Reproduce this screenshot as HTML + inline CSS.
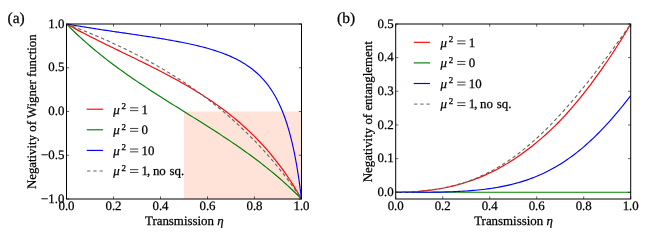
<!DOCTYPE html>
<html><head><meta charset="utf-8"><title>figure</title>
<style>html,body{margin:0;padding:0;background:#fff;}svg{display:block;will-change:transform;}text{font-family:"Liberation Serif",serif;fill:#000;text-rendering:geometricPrecision;stroke:#000;stroke-width:0.25px;}.it{font-style:italic;}</style></head><body>
<svg width="664" height="240" viewBox="0 0 664 240">
<rect x="0" y="0" width="664" height="240" fill="#ffffff"/>
<clipPath id="clip1"><rect x="66.50" y="24.00" width="235.00" height="175.00"/></clipPath>
<rect x="184.00" y="111.50" width="117.50" height="87.50" fill="#ffe2d8"/>
<g clip-path="url(#clip1)" fill="none" stroke-linejoin="round">
<path d="M66.50,24.00 L68.85,25.30 L71.20,26.59 L73.55,27.87 L75.90,29.13 L78.25,30.38 L80.60,31.62 L82.95,32.85 L85.30,34.06 L87.65,35.27 L90.00,36.47 L92.35,37.66 L94.70,38.84 L97.05,40.01 L99.40,41.18 L101.75,42.34 L104.10,43.50 L106.45,44.65 L108.80,45.80 L111.15,46.95 L113.50,48.09 L115.85,49.23 L118.20,50.37 L120.55,51.51 L122.90,52.65 L125.25,53.79 L127.60,54.93 L129.95,56.07 L132.30,57.21 L134.65,58.35 L137.00,59.50 L139.35,60.65 L141.70,61.81 L144.05,62.97 L146.40,64.13 L148.75,65.30 L151.10,66.48 L153.45,67.66 L155.80,68.86 L158.15,70.06 L160.50,71.27 L162.85,72.49 L165.20,73.72 L167.55,74.96 L169.90,76.21 L172.25,77.47 L174.60,78.75 L176.95,80.04 L179.30,81.35 L181.65,82.67 L184.00,84.00 L186.35,85.35 L188.70,86.72 L191.05,88.11 L193.40,89.52 L195.75,90.95 L198.10,92.40 L200.45,93.87 L202.80,95.36 L205.15,96.88 L207.50,98.42 L209.85,99.99 L212.20,101.59 L214.55,103.21 L216.90,104.86 L219.25,106.55 L221.60,108.26 L223.95,110.01 L226.30,111.79 L228.65,113.61 L231.00,115.47 L233.35,117.36 L235.70,119.30 L238.05,121.28 L240.40,123.30 L242.75,125.36 L245.10,127.48 L247.45,129.64 L249.80,131.86 L252.15,134.12 L254.50,136.45 L256.85,138.83 L259.20,141.27 L261.55,143.77 L263.90,146.34 L266.25,148.98 L268.60,151.69 L270.95,154.47 L273.30,157.33 L275.65,160.27 L278.00,163.29 L280.35,166.40 L282.70,169.60 L285.05,172.89 L287.40,176.29 L289.75,179.79 L292.10,183.39 L294.45,187.11 L296.80,190.95 L299.15,194.91 L301.50,199.00" stroke="#ff0000" stroke-width="1.15"/>
<path d="M66.50,24.00 L68.85,26.38 L71.20,28.72 L73.55,31.01 L75.90,33.26 L78.25,35.47 L80.60,37.65 L82.95,39.78 L85.30,41.88 L87.65,43.94 L90.00,45.97 L92.35,47.97 L94.70,49.94 L97.05,51.88 L99.40,53.79 L101.75,55.67 L104.10,57.53 L106.45,59.36 L108.80,61.17 L111.15,62.96 L113.50,64.72 L115.85,66.47 L118.20,68.19 L120.55,69.90 L122.90,71.58 L125.25,73.25 L127.60,74.91 L129.95,76.54 L132.30,78.17 L134.65,79.77 L137.00,81.37 L139.35,82.95 L141.70,84.52 L144.05,86.08 L146.40,87.63 L148.75,89.17 L151.10,90.70 L153.45,92.22 L155.80,93.73 L158.15,95.24 L160.50,96.74 L162.85,98.23 L165.20,99.72 L167.55,101.20 L169.90,102.68 L172.25,104.15 L174.60,105.63 L176.95,107.10 L179.30,108.57 L181.65,110.03 L184.00,111.50 L186.35,112.97 L188.70,114.43 L191.05,115.90 L193.40,117.37 L195.75,118.85 L198.10,120.32 L200.45,121.80 L202.80,123.28 L205.15,124.77 L207.50,126.26 L209.85,127.76 L212.20,129.27 L214.55,130.78 L216.90,132.30 L219.25,133.83 L221.60,135.37 L223.95,136.92 L226.30,138.48 L228.65,140.05 L231.00,141.63 L233.35,143.23 L235.70,144.83 L238.05,146.46 L240.40,148.09 L242.75,149.75 L245.10,151.42 L247.45,153.10 L249.80,154.81 L252.15,156.53 L254.50,158.28 L256.85,160.04 L259.20,161.83 L261.55,163.64 L263.90,165.47 L266.25,167.33 L268.60,169.21 L270.95,171.12 L273.30,173.06 L275.65,175.03 L278.00,177.03 L280.35,179.06 L282.70,181.12 L285.05,183.22 L287.40,185.35 L289.75,187.53 L292.10,189.74 L294.45,191.99 L296.80,194.28 L299.15,196.62 L301.50,199.00" stroke="#008000" stroke-width="1.15"/>
<path d="M66.50,24.00 L68.85,24.41 L71.20,24.82 L73.55,25.23 L75.90,25.62 L78.25,26.02 L80.60,26.40 L82.95,26.79 L85.30,27.17 L87.65,27.54 L90.00,27.91 L92.35,28.28 L94.70,28.64 L97.05,29.00 L99.40,29.36 L101.75,29.72 L104.10,30.07 L106.45,30.42 L108.80,30.77 L111.15,31.12 L113.50,31.46 L115.85,31.81 L118.20,32.15 L120.55,32.49 L122.90,32.83 L125.25,33.18 L127.60,33.52 L129.95,33.86 L132.30,34.21 L134.65,34.55 L137.00,34.90 L139.35,35.25 L141.70,35.60 L144.05,35.95 L146.40,36.31 L148.75,36.67 L151.10,37.03 L153.45,37.39 L155.80,37.77 L158.15,38.14 L160.50,38.52 L162.85,38.91 L165.20,39.30 L167.55,39.70 L169.90,40.11 L172.25,40.53 L174.60,40.95 L176.95,41.39 L179.30,41.83 L181.65,42.29 L184.00,42.75 L186.35,43.23 L188.70,43.73 L191.05,44.24 L193.40,44.76 L195.75,45.30 L198.10,45.86 L200.45,46.44 L202.80,47.04 L205.15,47.66 L207.50,48.31 L209.85,48.98 L212.20,49.68 L214.55,50.41 L216.90,51.18 L219.25,51.98 L221.60,52.81 L223.95,53.69 L226.30,54.61 L228.65,55.58 L231.00,56.60 L233.35,57.68 L235.70,58.82 L238.05,60.03 L240.40,61.31 L242.75,62.67 L245.10,64.11 L247.45,65.66 L249.80,67.30 L252.15,69.07 L254.50,70.96 L256.85,73.00 L259.20,75.19 L261.55,77.56 L263.90,80.13 L266.25,82.93 L268.60,85.97 L270.95,89.31 L273.30,92.97 L275.65,97.00 L278.00,101.47 L280.35,106.43 L282.70,111.99 L285.05,118.23 L287.40,125.30 L289.75,133.36 L292.10,142.62 L294.45,153.37 L296.80,165.97 L299.15,180.94 L301.50,199.00" stroke="#0000ff" stroke-width="1.15"/>
<path d="M66.50,24.00 L68.85,24.88 L71.20,25.77 L73.55,26.66 L75.90,27.57 L78.25,28.49 L80.60,29.41 L82.95,30.35 L85.30,31.29 L87.65,32.25 L90.00,33.21 L92.35,34.19 L94.70,35.17 L97.05,36.17 L99.40,37.17 L101.75,38.19 L104.10,39.22 L106.45,40.26 L108.80,41.31 L111.15,42.37 L113.50,43.44 L115.85,44.53 L118.20,45.63 L120.55,46.74 L122.90,47.86 L125.25,49.00 L127.60,50.15 L129.95,51.31 L132.30,52.49 L134.65,53.68 L137.00,54.88 L139.35,56.10 L141.70,57.33 L144.05,58.58 L146.40,59.84 L148.75,61.12 L151.10,62.41 L153.45,63.72 L155.80,65.05 L158.15,66.39 L160.50,67.75 L162.85,69.13 L165.20,70.52 L167.55,71.93 L169.90,73.36 L172.25,74.81 L174.60,76.27 L176.95,77.76 L179.30,79.26 L181.65,80.79 L184.00,82.33 L186.35,83.90 L188.70,85.49 L191.05,87.10 L193.40,88.73 L195.75,90.38 L198.10,92.06 L200.45,93.76 L202.80,95.48 L205.15,97.23 L207.50,99.00 L209.85,100.80 L212.20,102.62 L214.55,104.47 L216.90,106.35 L219.25,108.26 L221.60,110.19 L223.95,112.16 L226.30,114.15 L228.65,116.18 L231.00,118.23 L233.35,120.32 L235.70,122.44 L238.05,124.59 L240.40,126.78 L242.75,129.00 L245.10,131.26 L247.45,133.55 L249.80,135.89 L252.15,138.26 L254.50,140.67 L256.85,143.12 L259.20,145.61 L261.55,148.15 L263.90,150.72 L266.25,153.35 L268.60,156.02 L270.95,158.73 L273.30,161.50 L275.65,164.32 L278.00,167.18 L280.35,170.10 L282.70,173.07 L285.05,176.10 L287.40,179.19 L289.75,182.33 L292.10,185.54 L294.45,188.81 L296.80,192.14 L299.15,195.53 L301.50,199.00" stroke="#636363" stroke-width="1.1" stroke-dasharray="3.5 2.7"/>
</g>
<g stroke="#000" stroke-width="0.6">
<line x1="66.50" y1="199.00" x2="66.50" y2="196.30"/>
<line x1="66.50" y1="24.00" x2="66.50" y2="26.70"/>
<line x1="113.50" y1="199.00" x2="113.50" y2="196.30"/>
<line x1="113.50" y1="24.00" x2="113.50" y2="26.70"/>
<line x1="160.50" y1="199.00" x2="160.50" y2="196.30"/>
<line x1="160.50" y1="24.00" x2="160.50" y2="26.70"/>
<line x1="207.50" y1="199.00" x2="207.50" y2="196.30"/>
<line x1="207.50" y1="24.00" x2="207.50" y2="26.70"/>
<line x1="254.50" y1="199.00" x2="254.50" y2="196.30"/>
<line x1="254.50" y1="24.00" x2="254.50" y2="26.70"/>
<line x1="301.50" y1="199.00" x2="301.50" y2="196.30"/>
<line x1="301.50" y1="24.00" x2="301.50" y2="26.70"/>
<line x1="66.50" y1="199.00" x2="69.20" y2="199.00"/>
<line x1="301.50" y1="199.00" x2="298.80" y2="199.00"/>
<line x1="66.50" y1="155.25" x2="69.20" y2="155.25"/>
<line x1="301.50" y1="155.25" x2="298.80" y2="155.25"/>
<line x1="66.50" y1="111.50" x2="69.20" y2="111.50"/>
<line x1="301.50" y1="111.50" x2="298.80" y2="111.50"/>
<line x1="66.50" y1="67.75" x2="69.20" y2="67.75"/>
<line x1="301.50" y1="67.75" x2="298.80" y2="67.75"/>
<line x1="66.50" y1="24.00" x2="69.20" y2="24.00"/>
<line x1="301.50" y1="24.00" x2="298.80" y2="24.00"/>
</g>
<rect x="66.50" y="24.00" width="235.00" height="175.00" fill="none" stroke="#000" stroke-width="1"/>
<text x="66.50" y="210.00" font-size="12.9" text-anchor="middle">0.0</text>
<text x="113.50" y="210.00" font-size="12.9" text-anchor="middle">0.2</text>
<text x="160.50" y="210.00" font-size="12.9" text-anchor="middle">0.4</text>
<text x="207.50" y="210.00" font-size="12.9" text-anchor="middle">0.6</text>
<text x="254.50" y="210.00" font-size="12.9" text-anchor="middle">0.8</text>
<text x="301.50" y="210.00" font-size="12.9" text-anchor="middle">1.0</text>
<text x="64.40" y="202.60" font-size="12.9" text-anchor="end">−1.0</text>
<text x="64.40" y="158.85" font-size="12.9" text-anchor="end">−0.5</text>
<text x="64.40" y="115.10" font-size="12.9" text-anchor="end">0.0</text>
<text x="64.40" y="71.35" font-size="12.9" text-anchor="end">0.5</text>
<text x="64.40" y="27.60" font-size="12.9" text-anchor="end">1.0</text>
<clipPath id="clip2"><rect x="395.70" y="24.00" width="235.00" height="175.00"/></clipPath>
<g clip-path="url(#clip2)" fill="none" stroke-linejoin="round">
<path d="M395.70,192.27 L398.05,192.26 L400.40,192.23 L402.75,192.19 L405.10,192.13 L407.45,192.05 L409.80,191.95 L412.15,191.83 L414.50,191.69 L416.85,191.52 L419.20,191.34 L421.55,191.14 L423.90,190.91 L426.25,190.66 L428.60,190.38 L430.95,190.09 L433.30,189.76 L435.65,189.42 L438.00,189.04 L440.35,188.64 L442.70,188.21 L445.05,187.76 L447.40,187.27 L449.75,186.76 L452.10,186.21 L454.45,185.64 L456.80,185.04 L459.15,184.40 L461.50,183.73 L463.85,183.03 L466.20,182.29 L468.55,181.52 L470.90,180.72 L473.25,179.88 L475.60,179.00 L477.95,178.09 L480.30,177.14 L482.65,176.15 L485.00,175.13 L487.35,174.06 L489.70,172.96 L492.05,171.82 L494.40,170.64 L496.75,169.42 L499.10,168.15 L501.45,166.85 L503.80,165.51 L506.15,164.12 L508.50,162.70 L510.85,161.23 L513.20,159.73 L515.55,158.18 L517.90,156.59 L520.25,154.96 L522.60,153.29 L524.95,151.58 L527.30,149.83 L529.65,148.04 L532.00,146.20 L534.35,144.32 L536.70,142.40 L539.05,140.43 L541.40,138.42 L543.75,136.36 L546.10,134.25 L548.45,132.10 L550.80,129.89 L553.15,127.63 L555.50,125.33 L557.85,122.97 L560.20,120.55 L562.55,118.08 L564.90,115.56 L567.25,112.99 L569.60,110.35 L571.95,107.67 L574.30,104.93 L576.65,102.13 L579.00,99.29 L581.35,96.39 L583.70,93.44 L586.05,90.44 L588.40,87.38 L590.75,84.28 L593.10,81.14 L595.45,77.94 L597.80,74.70 L600.15,71.40 L602.50,68.07 L604.85,64.68 L607.20,61.24 L609.55,57.76 L611.90,54.22 L614.25,50.64 L616.60,47.00 L618.95,43.31 L621.30,39.57 L623.65,35.77 L626.00,31.92 L628.35,28.00 L630.70,24.03" stroke="#ff0000" stroke-width="1.15"/>
<path d="M395.70,192.27 L398.05,192.27 L400.40,192.27 L402.75,192.27 L405.10,192.27 L407.45,192.27 L409.80,192.27 L412.15,192.27 L414.50,192.27 L416.85,192.27 L419.20,192.27 L421.55,192.27 L423.90,192.27 L426.25,192.27 L428.60,192.27 L430.95,192.27 L433.30,192.27 L435.65,192.27 L438.00,192.27 L440.35,192.27 L442.70,192.27 L445.05,192.27 L447.40,192.27 L449.75,192.27 L452.10,192.27 L454.45,192.27 L456.80,192.27 L459.15,192.27 L461.50,192.27 L463.85,192.27 L466.20,192.27 L468.55,192.27 L470.90,192.27 L473.25,192.27 L475.60,192.27 L477.95,192.27 L480.30,192.27 L482.65,192.27 L485.00,192.27 L487.35,192.27 L489.70,192.27 L492.05,192.27 L494.40,192.27 L496.75,192.27 L499.10,192.27 L501.45,192.27 L503.80,192.27 L506.15,192.27 L508.50,192.27 L510.85,192.27 L513.20,192.27 L515.55,192.27 L517.90,192.27 L520.25,192.27 L522.60,192.27 L524.95,192.27 L527.30,192.27 L529.65,192.27 L532.00,192.27 L534.35,192.27 L536.70,192.27 L539.05,192.27 L541.40,192.27 L543.75,192.27 L546.10,192.27 L548.45,192.27 L550.80,192.27 L553.15,192.27 L555.50,192.27 L557.85,192.27 L560.20,192.27 L562.55,192.27 L564.90,192.27 L567.25,192.27 L569.60,192.27 L571.95,192.27 L574.30,192.27 L576.65,192.27 L579.00,192.27 L581.35,192.27 L583.70,192.27 L586.05,192.27 L588.40,192.27 L590.75,192.27 L593.10,192.27 L595.45,192.27 L597.80,192.27 L600.15,192.27 L602.50,192.27 L604.85,192.27 L607.20,192.27 L609.55,192.27 L611.90,192.27 L614.25,192.27 L616.60,192.27 L618.95,192.27 L621.30,192.27 L623.65,192.27 L626.00,192.27 L628.35,192.27 L630.70,192.27" stroke="#008000" stroke-width="1.15"/>
<path d="M395.70,192.27 L398.05,192.27 L400.40,192.27 L402.75,192.27 L405.10,192.27 L407.45,192.27 L409.80,192.27 L412.15,192.27 L414.50,192.27 L416.85,192.27 L419.20,192.27 L421.55,192.27 L423.90,192.26 L426.25,192.24 L428.60,192.22 L430.95,192.20 L433.30,192.17 L435.65,192.14 L438.00,192.10 L440.35,192.06 L442.70,192.00 L445.05,191.94 L447.40,191.88 L449.75,191.80 L452.10,191.71 L454.45,191.62 L456.80,191.51 L459.15,191.40 L461.50,191.27 L463.85,191.13 L466.20,190.98 L468.55,190.81 L470.90,190.63 L473.25,190.44 L475.60,190.22 L477.95,190.00 L480.30,189.75 L482.65,189.49 L485.00,189.21 L487.35,188.91 L489.70,188.59 L492.05,188.24 L494.40,187.88 L496.75,187.49 L499.10,187.07 L501.45,186.64 L503.80,186.17 L506.15,185.68 L508.50,185.16 L510.85,184.61 L513.20,184.03 L515.55,183.41 L517.90,182.77 L520.25,182.09 L522.60,181.37 L524.95,180.62 L527.30,179.83 L529.65,179.00 L532.00,178.13 L534.35,177.22 L536.70,176.27 L539.05,175.27 L541.40,174.23 L543.75,173.15 L546.10,172.01 L548.45,170.83 L550.80,169.60 L553.15,168.32 L555.50,166.99 L557.85,165.61 L560.20,164.18 L562.55,162.69 L564.90,161.15 L567.25,159.55 L569.60,157.90 L571.95,156.20 L574.30,154.44 L576.65,152.62 L579.00,150.75 L581.35,148.82 L583.70,146.83 L586.05,144.79 L588.40,142.69 L590.75,140.54 L593.10,138.33 L595.45,136.06 L597.80,133.74 L600.15,131.36 L602.50,128.93 L604.85,126.44 L607.20,123.90 L609.55,121.30 L611.90,118.65 L614.25,115.95 L616.60,113.19 L618.95,110.38 L621.30,107.51 L623.65,104.59 L626.00,101.62 L628.35,98.60 L630.70,95.52" stroke="#0000ff" stroke-width="1.15"/>
<path d="M395.70,192.27 L398.05,192.26 L400.40,192.23 L402.75,192.19 L405.10,192.13 L407.45,192.05 L409.80,191.95 L412.15,191.83 L414.50,191.69 L416.85,191.52 L419.20,191.34 L421.55,191.13 L423.90,190.90 L426.25,190.64 L428.60,190.36 L430.95,190.06 L433.30,189.73 L435.65,189.37 L438.00,188.98 L440.35,188.57 L442.70,188.13 L445.05,187.65 L447.40,187.15 L449.75,186.61 L452.10,186.04 L454.45,185.44 L456.80,184.81 L459.15,184.14 L461.50,183.43 L463.85,182.69 L466.20,181.91 L468.55,181.09 L470.90,180.23 L473.25,179.34 L475.60,178.40 L477.95,177.42 L480.30,176.40 L482.65,175.34 L485.00,174.23 L487.35,173.08 L489.70,171.89 L492.05,170.65 L494.40,169.37 L496.75,168.04 L499.10,166.66 L501.45,165.24 L503.80,163.77 L506.15,162.25 L508.50,160.69 L510.85,159.08 L513.20,157.42 L515.55,155.71 L517.90,153.96 L520.25,152.16 L522.60,150.31 L524.95,148.41 L527.30,146.47 L529.65,144.48 L532.00,142.44 L534.35,140.36 L536.70,138.24 L539.05,136.06 L541.40,133.85 L543.75,131.59 L546.10,129.29 L548.45,126.94 L550.80,124.55 L553.15,122.12 L555.50,119.66 L557.85,117.15 L560.20,114.60 L562.55,112.01 L564.90,109.39 L567.25,106.73 L569.60,104.04 L571.95,101.31 L574.30,98.54 L576.65,95.75 L579.00,92.92 L581.35,90.06 L583.70,87.16 L586.05,84.24 L588.40,81.29 L590.75,78.31 L593.10,75.30 L595.45,72.27 L597.80,69.21 L600.15,66.12 L602.50,63.01 L604.85,59.88 L607.20,56.72 L609.55,53.54 L611.90,50.34 L614.25,47.12 L616.60,43.87 L618.95,40.61 L621.30,37.32 L623.65,34.02 L626.00,30.70 L628.35,27.36 L630.70,24.00" stroke="#636363" stroke-width="1.1" stroke-dasharray="3.5 2.7"/>
</g>
<g stroke="#000" stroke-width="0.6">
<line x1="395.70" y1="199.00" x2="395.70" y2="196.30"/>
<line x1="395.70" y1="24.00" x2="395.70" y2="26.70"/>
<line x1="442.70" y1="199.00" x2="442.70" y2="196.30"/>
<line x1="442.70" y1="24.00" x2="442.70" y2="26.70"/>
<line x1="489.70" y1="199.00" x2="489.70" y2="196.30"/>
<line x1="489.70" y1="24.00" x2="489.70" y2="26.70"/>
<line x1="536.70" y1="199.00" x2="536.70" y2="196.30"/>
<line x1="536.70" y1="24.00" x2="536.70" y2="26.70"/>
<line x1="583.70" y1="199.00" x2="583.70" y2="196.30"/>
<line x1="583.70" y1="24.00" x2="583.70" y2="26.70"/>
<line x1="630.70" y1="199.00" x2="630.70" y2="196.30"/>
<line x1="630.70" y1="24.00" x2="630.70" y2="26.70"/>
<line x1="395.70" y1="192.27" x2="398.40" y2="192.27"/>
<line x1="630.70" y1="192.27" x2="628.00" y2="192.27"/>
<line x1="395.70" y1="158.62" x2="398.40" y2="158.62"/>
<line x1="630.70" y1="158.62" x2="628.00" y2="158.62"/>
<line x1="395.70" y1="124.96" x2="398.40" y2="124.96"/>
<line x1="630.70" y1="124.96" x2="628.00" y2="124.96"/>
<line x1="395.70" y1="91.31" x2="398.40" y2="91.31"/>
<line x1="630.70" y1="91.31" x2="628.00" y2="91.31"/>
<line x1="395.70" y1="57.65" x2="398.40" y2="57.65"/>
<line x1="630.70" y1="57.65" x2="628.00" y2="57.65"/>
<line x1="395.70" y1="24.00" x2="398.40" y2="24.00"/>
<line x1="630.70" y1="24.00" x2="628.00" y2="24.00"/>
</g>
<rect x="395.70" y="24.00" width="235.00" height="175.00" fill="none" stroke="#000" stroke-width="1"/>
<text x="395.70" y="210.00" font-size="12.9" text-anchor="middle">0.0</text>
<text x="442.70" y="210.00" font-size="12.9" text-anchor="middle">0.2</text>
<text x="489.70" y="210.00" font-size="12.9" text-anchor="middle">0.4</text>
<text x="536.70" y="210.00" font-size="12.9" text-anchor="middle">0.6</text>
<text x="583.70" y="210.00" font-size="12.9" text-anchor="middle">0.8</text>
<text x="630.70" y="210.00" font-size="12.9" text-anchor="middle">1.0</text>
<text x="393.60" y="195.87" font-size="12.9" text-anchor="end">0.0</text>
<text x="393.60" y="162.22" font-size="12.9" text-anchor="end">0.1</text>
<text x="393.60" y="128.56" font-size="12.9" text-anchor="end">0.2</text>
<text x="393.60" y="94.91" font-size="12.9" text-anchor="end">0.3</text>
<text x="393.60" y="61.25" font-size="12.9" text-anchor="end">0.4</text>
<text x="393.60" y="27.60" font-size="12.9" text-anchor="end">0.5</text>
<text x="184.30" y="224.6" font-size="12.9" text-anchor="middle">Transmission <tspan class="it">η</tspan></text>
<text x="513.50" y="224.6" font-size="12.9" text-anchor="middle">Transmission <tspan class="it">η</tspan></text>
<text transform="translate(35.9,111.7) rotate(-90)" font-size="12.9" text-anchor="middle" textLength="154.6" lengthAdjust="spacingAndGlyphs">Negativity of Wigner function</text>
<text transform="translate(372.2,111.7) rotate(-90)" font-size="12.9" text-anchor="middle">Negativity of entanglement</text>
<text x="7.5" y="22.5" font-size="15.5">(a)</text>
<text x="337" y="22.5" font-size="15.5">(b)</text>
<line x1="86.70" y1="109.20" x2="103.00" y2="109.20" stroke="#ff0000" stroke-width="1.15"/>
<text font-size="12.9" y="113.50"><tspan class="it" x="113.20">μ</tspan><tspan x="121.60" dy="-4.6" font-size="9">2</tspan><tspan x="141.50" dy="4.6">1</tspan></text>
<line x1="130.00" y1="107.85" x2="138.30" y2="107.85" stroke="#000" stroke-width="0.75"/>
<line x1="130.00" y1="110.65" x2="138.30" y2="110.65" stroke="#000" stroke-width="0.75"/>
<line x1="86.70" y1="129.80" x2="103.00" y2="129.80" stroke="#008000" stroke-width="1.15"/>
<text font-size="12.9" y="134.10"><tspan class="it" x="113.20">μ</tspan><tspan x="121.60" dy="-4.6" font-size="9">2</tspan><tspan x="141.50" dy="4.6">0</tspan></text>
<line x1="130.00" y1="128.45" x2="138.30" y2="128.45" stroke="#000" stroke-width="0.75"/>
<line x1="130.00" y1="131.25" x2="138.30" y2="131.25" stroke="#000" stroke-width="0.75"/>
<line x1="86.70" y1="150.40" x2="103.00" y2="150.40" stroke="#0000ff" stroke-width="1.15"/>
<text font-size="12.9" y="154.70"><tspan class="it" x="113.20">μ</tspan><tspan x="121.60" dy="-4.6" font-size="9">2</tspan><tspan x="141.50" dy="4.6">10</tspan></text>
<line x1="130.00" y1="149.05" x2="138.30" y2="149.05" stroke="#000" stroke-width="0.75"/>
<line x1="130.00" y1="151.85" x2="138.30" y2="151.85" stroke="#000" stroke-width="0.75"/>
<line x1="87.10" y1="171.00" x2="103.00" y2="171.00" stroke="#636363" stroke-width="1.0" stroke-dasharray="3.3 2.9"/>
<text font-size="12.9" y="175.30"><tspan class="it" x="113.20">μ</tspan><tspan x="121.60" dy="-4.6" font-size="9">2</tspan><tspan x="141.50" dy="4.6">1</tspan><tspan x="147.00">,</tspan><tspan x="152.90">no</tspan><tspan x="169.50">sq.</tspan></text>
<line x1="130.00" y1="169.65" x2="138.30" y2="169.65" stroke="#000" stroke-width="0.75"/>
<line x1="130.00" y1="172.45" x2="138.30" y2="172.45" stroke="#000" stroke-width="0.75"/>
<line x1="413.70" y1="42.30" x2="430.00" y2="42.30" stroke="#ff0000" stroke-width="1.15"/>
<text font-size="12.9" y="46.60"><tspan class="it" x="440.40">μ</tspan><tspan x="448.80" dy="-4.6" font-size="9">2</tspan><tspan x="468.70" dy="4.6">1</tspan></text>
<line x1="457.20" y1="40.95" x2="465.50" y2="40.95" stroke="#000" stroke-width="0.75"/>
<line x1="457.20" y1="43.75" x2="465.50" y2="43.75" stroke="#000" stroke-width="0.75"/>
<line x1="413.70" y1="62.90" x2="430.00" y2="62.90" stroke="#008000" stroke-width="1.15"/>
<text font-size="12.9" y="67.20"><tspan class="it" x="440.40">μ</tspan><tspan x="448.80" dy="-4.6" font-size="9">2</tspan><tspan x="468.70" dy="4.6">0</tspan></text>
<line x1="457.20" y1="61.55" x2="465.50" y2="61.55" stroke="#000" stroke-width="0.75"/>
<line x1="457.20" y1="64.35" x2="465.50" y2="64.35" stroke="#000" stroke-width="0.75"/>
<line x1="413.70" y1="83.50" x2="430.00" y2="83.50" stroke="#0000ff" stroke-width="1.15"/>
<text font-size="12.9" y="87.80"><tspan class="it" x="440.40">μ</tspan><tspan x="448.80" dy="-4.6" font-size="9">2</tspan><tspan x="468.70" dy="4.6">10</tspan></text>
<line x1="457.20" y1="82.15" x2="465.50" y2="82.15" stroke="#000" stroke-width="0.75"/>
<line x1="457.20" y1="84.95" x2="465.50" y2="84.95" stroke="#000" stroke-width="0.75"/>
<line x1="414.10" y1="104.10" x2="430.00" y2="104.10" stroke="#636363" stroke-width="1.0" stroke-dasharray="3.3 2.9"/>
<text font-size="12.9" y="108.40"><tspan class="it" x="440.40">μ</tspan><tspan x="448.80" dy="-4.6" font-size="9">2</tspan><tspan x="468.70" dy="4.6">1</tspan><tspan x="474.20">,</tspan><tspan x="480.10">no</tspan><tspan x="496.70">sq.</tspan></text>
<line x1="457.20" y1="102.75" x2="465.50" y2="102.75" stroke="#000" stroke-width="0.75"/>
<line x1="457.20" y1="105.55" x2="465.50" y2="105.55" stroke="#000" stroke-width="0.75"/>
</svg></body></html>
